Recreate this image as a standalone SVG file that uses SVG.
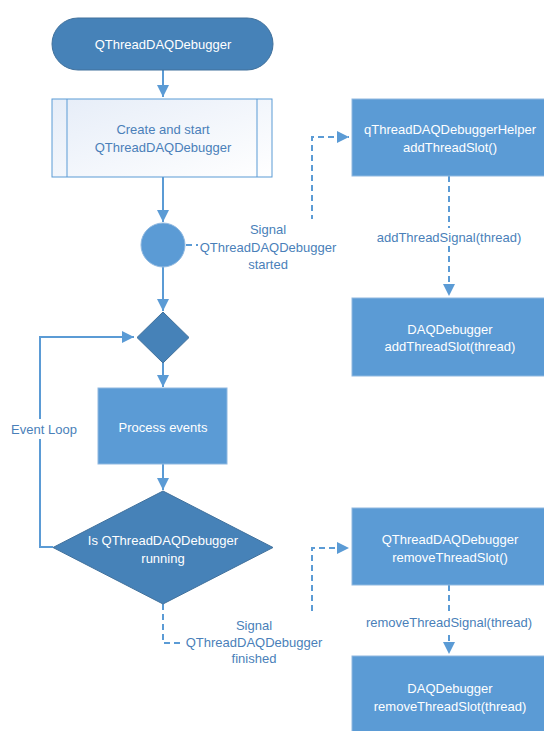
<svg xmlns="http://www.w3.org/2000/svg" width="544" height="731" viewBox="0 0 544 731">
<style>
text{font-family:"Liberation Sans",Arial,sans-serif;font-size:13px;text-anchor:middle}
.w{fill:#ffffff}
.b{fill:#4a7fb9}
.dark{fill:#4682b8;stroke:#41719c;stroke-width:1}
.mid{fill:#5b9bd5;stroke:#8fb8e0;stroke-width:1}
.ln{fill:none;stroke:#5b9bd5;stroke-width:2}
.ds{fill:none;stroke:#5b9bd5;stroke-width:2;stroke-dasharray:6,4}
.bg{fill:#ffffff}
</style>
<defs>
<marker id="ah" viewBox="0 0 10 10" refX="10" refY="5" markerWidth="6" markerHeight="6" markerUnits="strokeWidth" orient="auto">
<path d="M0,0 L10,5 L0,10 z" fill="#5b9bd5"/>
</marker>
<linearGradient id="lg" x1="0" y1="0" x2="1" y2="1">
<stop offset="0" stop-color="#e6edf8"/>
<stop offset="1" stop-color="#ffffff"/>
</linearGradient>
</defs>
<g id="connectors">
<path class="ln" d="M163,70 L163,97" marker-end="url(#ah)"/>
<path class="ln" d="M163,177 L163,222" marker-end="url(#ah)"/>
<path class="ln" d="M163,267 L163,311" marker-end="url(#ah)"/>
<path class="ln" d="M163,363 L163,387" marker-end="url(#ah)"/>
<path class="ln" d="M163,464 L163,490" marker-end="url(#ah)"/>
<path class="ln" d="M53,547 L40,547 L40,337 L134,337" marker-end="url(#ah)"/>
<path class="ds" d="M186,245 L312,245 L312,137 L349,137" marker-end="url(#ah)"/>
<path class="ds" d="M449,176 L449,296" marker-end="url(#ah)"/>
<path class="ds" d="M163,604 L163,643 L312,643 L312,548 L349,548" marker-end="url(#ah)"/>
<path class="ds" d="M449,585 L449,654" marker-end="url(#ah)"/>
<rect class="bg" x="12" y="419" width="64" height="20"/>
<text class="b" x="44" y="434">Event Loop</text>
<rect class="bg" x="198" y="219" width="142" height="54"/>
<text class="b" x="268" y="234">Signal</text>
<text class="b" x="268" y="252">QThreadDAQDebugger</text>
<text class="b" x="268" y="269">started</text>
<rect class="bg" x="184" y="614" width="142" height="54"/>
<text class="b" x="254" y="630">Signal</text>
<text class="b" x="254" y="647">QThreadDAQDebugger</text>
<text class="b" x="254" y="663">finished</text>
<rect class="bg" x="374" y="228" width="150" height="18"/>
<text class="b" x="449" y="242">addThreadSignal(thread)</text>
<rect class="bg" x="362" y="613" width="174" height="18"/>
<text class="b" x="449" y="627">removeThreadSignal(thread)</text>
</g>
<g id="start">
<rect class="dark" x="52" y="18" width="221" height="52" rx="26" ry="26"/>
<text class="w" x="163" y="49">QThreadDAQDebugger</text>
</g>
<g id="create">
<rect x="52" y="99" width="220" height="78" fill="url(#lg)" stroke="#5b9bd5" stroke-width="1"/>
<line x1="67" y1="99" x2="67" y2="177" stroke="#5b9bd5" stroke-width="1"/>
<line x1="257" y1="99" x2="257" y2="177" stroke="#5b9bd5" stroke-width="1"/>
<text class="b" x="163" y="134">Create and start</text>
<text class="b" x="163" y="152">QThreadDAQDebugger</text>
</g>
<g id="signalNode">
<circle cx="163" cy="245" r="22" fill="#5b9bd5" stroke="#8fb8e0" stroke-width="1"/>
</g>
<g id="merge">
<path class="dark" d="M163,312 L189,337.5 L163,363 L137,337.5 z"/>
</g>
<g id="process">
<rect class="mid" x="98" y="388" width="129" height="76"/>
<text class="w" x="163" y="432">Process events</text>
</g>
<g id="running">
<path class="dark" d="M163,491 L273,547.5 L163,604 L53,547.5 z"/>
<text class="w" x="163" y="545">Is QThreadDAQDebugger</text>
<text class="w" x="163" y="563">running</text>
</g>
<g id="helper">
<rect class="mid" x="352" y="99" width="197" height="77"/>
<text class="w" x="450" y="134">qThreadDAQDebuggerHelper</text>
<text class="w" x="450" y="152">addThreadSlot()</text>
</g>
<g id="addSlot">
<rect class="mid" x="352" y="298" width="197" height="78"/>
<text class="w" x="450" y="334">DAQDebugger</text>
<text class="w" x="450" y="351">addThreadSlot(thread)</text>
</g>
<g id="removeHelper">
<rect class="mid" x="352" y="508" width="197" height="77"/>
<text class="w" x="450" y="544">QThreadDAQDebugger</text>
<text class="w" x="450" y="562">removeThreadSlot()</text>
</g>
<g id="removeSlot">
<rect class="mid" x="352" y="656" width="197" height="78"/>
<text class="w" x="450" y="693">DAQDebugger</text>
<text class="w" x="450" y="711">removeThreadSlot(thread)</text>
</g>
</svg>
